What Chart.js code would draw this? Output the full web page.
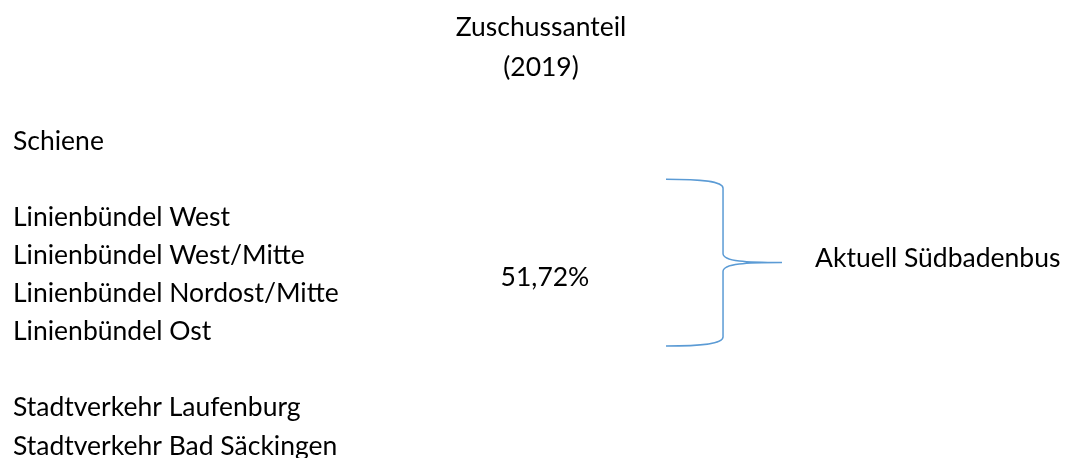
<!DOCTYPE html>
<html>
<head>
<meta charset="utf-8">
<script src="https://cdn.jsdelivr.net/npm/chart.js@4/dist/chart.umd.min.js"></script>
<style>
html,body{margin:0;padding:0;background:#fff;}
#wrap{width:1069px;height:458px;}
</style>
</head>
<body>
<div id="wrap"><canvas id="c" width="1069" height="458"></canvas></div>
<script>
// ---- data ----
const titleLines = ['Zuschussanteil', '(2019)'];
const rows = [
  'Schiene',
  '',
  'Linienbündel West',
  'Linienbündel West/Mitte',
  'Linienbündel Nordost/Mitte',
  'Linienbündel Ost',
  '',
  'Stadtverkehr Laufenburg',
  'Stadtverkehr Bad Säckingen'
];
const groupShare = [51.72];            // Zuschussanteil in %
const groupLabel = ['Aktuell Südbadenbus'];
const groupRows = [1, 5.38];          // row span covered by the brace

// ---- layout / style (not data) ----
const FONT = 'Lato';
const FSIZE = 26.5;
const braceColor = '#5B9BD5';
const labelAxisWidth = 345;
const pos = {
  braceLeft: 43.32, braceStem: 51.34, braceTip: 59.63,
  shareX: 26.30, shareRow: 3.59,
  labelX: 64.28, labelRow: 3.07
};

const fmtPct = v => v.toFixed(2).replace('.', ',') + '%';

const bracePlugin = {
  id: 'brace',
  afterDatasetsDraw(chart) {
    const ctx = chart.ctx;
    const xs = chart.scales.x, ys = chart.scales.y;
    const X = v => xs.getPixelForValue(v);
    const Y = v => ys.getPixelForValue(v);
    const x0 = X(pos.braceLeft), x1 = X(pos.braceStem), x2 = X(pos.braceTip);
    const top = Y(groupRows[0]), bot = Y(groupRows[1]);
    const mid = Y((groupRows[0] + groupRows[1]) / 2);
    const r = 9;
    ctx.save();
    ctx.strokeStyle = braceColor;
    ctx.lineWidth = 1.5;
    ctx.beginPath();
    ctx.moveTo(x0, top);
    ctx.bezierCurveTo(x0 + (x1 - x0) * 0.6, top, x1, top + 2, x1, top + r);
    ctx.lineTo(x1, mid - r);
    ctx.bezierCurveTo(x1, mid - 1, x1 + (x2 - x1) * 0.4, mid, x2, mid);
    ctx.moveTo(x2, mid);
    ctx.bezierCurveTo(x1 + (x2 - x1) * 0.4, mid, x1, mid + 1, x1, mid + r);
    ctx.lineTo(x1, bot - r);
    ctx.bezierCurveTo(x1, bot - 2, x0 + (x1 - x0) * 0.6, bot, x0, bot);
    ctx.stroke();

    ctx.fillStyle = '#000';
    ctx.font = FSIZE + 'px ' + FONT;
    ctx.textBaseline = 'middle';
    ctx.textAlign = 'center';
    ctx.fillText(fmtPct(groupShare[0]), X(pos.shareX), Y(pos.shareRow));
    ctx.textAlign = 'left';
    ctx.fillText(groupLabel[0], X(pos.labelX), Y(pos.labelRow));
    ctx.restore();
  }
};

new Chart(document.getElementById('c'), {
  type: 'scatter',
  data: { labels: rows, datasets: [{ data: [], pointRadius: 0 }] },
  options: {
    responsive: false,
    animation: false,
    events: [],
    layout: { padding: { left: 13, right: 0, top: 0, bottom: 12 } },
    plugins: {
      legend: { display: false },
      tooltip: { enabled: false },
      title: {
        display: true,
        text: titleLines,
        color: '#000',
        font: { family: FONT, size: FSIZE, weight: 'normal', lineHeight: 40 / FSIZE },
        padding: { top: 7, bottom: 54 }
      }
    },
    scales: {
      x: { type: 'linear', display: false, min: 0, max: 100 },
      y: {
        type: 'category',
        labels: rows,
        offset: false,
        grid: { display: false },
        border: { display: false },
        ticks: {
          autoSkip: false,
          crossAlign: 'far',
          padding: 0,
          color: '#000',
          font: { family: FONT, size: FSIZE, lineHeight: 0.9 }
        },
        afterFit(s) { s.width = labelAxisWidth; }
      }
    }
  },
  plugins: [bracePlugin]
});
</script>
</body>
</html>
